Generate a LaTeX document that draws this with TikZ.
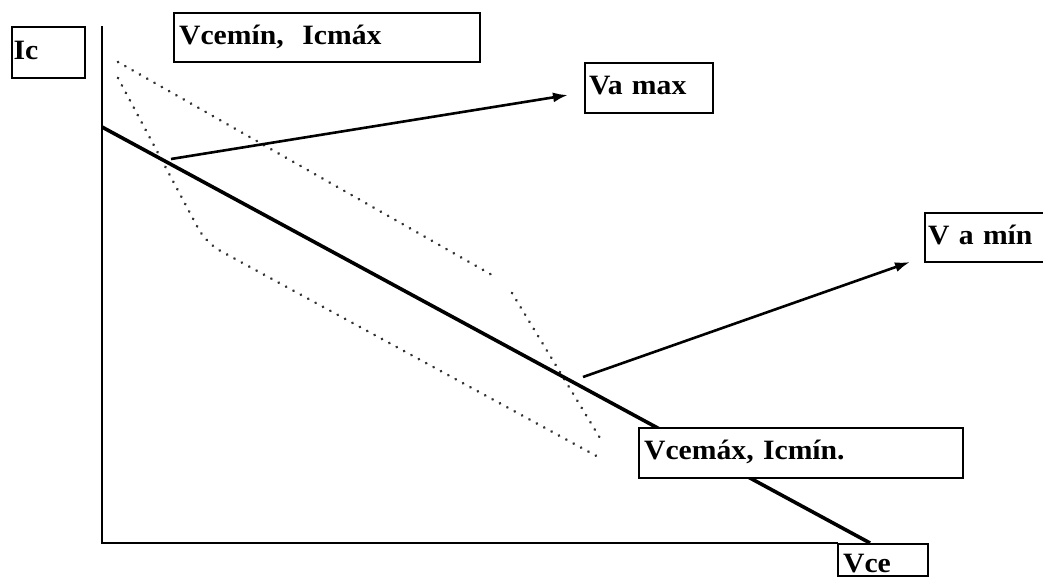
\documentclass[tikz,border=0pt]{standalone}
\usepackage{fontspec}
\setmainfont{Liberation Serif}[FakeStretch=1.06]
\usetikzlibrary{arrows.meta}
\begin{document}
\begin{tikzpicture}[x=1pt,y=-1pt,
  axisline/.style={line width=2.6pt, line cap=rect},
  loadline/.style={line width=3.6pt},
  bound/.style={draw=black!80, line width=2.9pt, dash pattern=on 0.1pt off 8.3pt, line cap=round},
  pointer/.style={line width=2.6pt, -{Latex[length=15pt,width=10pt]}},
  legendbox/.style={draw, fill=white, line width=2.2pt, anchor=north west,
    inner ysep=0pt, align=left, font=\fontsize{28}{30}\selectfont\bfseries},
]
\clip (0,0) rectangle (1043,579);

% operating-point region bounds (dotted)
\coordinate (ulA) at (118,62);
\coordinate (ulB) at (492,275);
\coordinate (urA) at (512,293);
\coordinate (urB) at (603,443);
\coordinate (llA) at (118,78);
\coordinate (llC) at (206,243);
\coordinate (llB) at (602,459);
\draw[bound] (ulA) -- (ulB);
\draw[bound] (urA) -- (urB);
\draw[bound, rounded corners=16pt] (llA) -- (llC) -- (llB);

% load line
\coordinate (loadA) at (102,127);
\coordinate (loadB) at (870,543);
\draw[loadline] (loadA) -- (loadB);

% pointers to the extreme amplitudes
\coordinate (maxfrom) at (171,159);
\coordinate (maxto) at (568,95);
\coordinate (minfrom) at (583,377);
\coordinate (minto) at (910,262);
\draw[pointer] (maxfrom) -- (maxto);
\draw[pointer] (minfrom) -- (minto);

% labels
\node[legendbox, inner xsep=1.5pt, text width=70pt, text height=32pt, text depth=19pt] (ic) at (11,26) {Ic};
\node[legendbox, inner xsep=5pt, text width=296pt, text height=31pt, text depth=18pt] (satpt) at (173,12) {Vcemín,~~Icmáx};
\node[legendbox, inner xsep=4pt, text width=120pt, text height=31pt, text depth=19pt] (vamax) at (584,62) {Va max};
\node[legendbox, inner xsep=3pt, text width=124pt, text height=31pt, text depth=18pt] (vamin) at (924,212) {V a mín};
\node[legendbox, inner xsep=5pt, text width=314pt, text height=31pt, text depth=19pt] (cutpt) at (638,427) {Vcemáx, Icmín.};
\node[legendbox, inner xsep=5pt, text width=80pt, text height=28pt, text depth=4pt] (vce) at (837,543) {Vce};

% axes
\coordinate (top) at (102,27);
\coordinate (origin) at (102,543);
\draw[axisline] (top) -- (origin) -- (vce.west |- origin);
\end{tikzpicture}
\end{document}
